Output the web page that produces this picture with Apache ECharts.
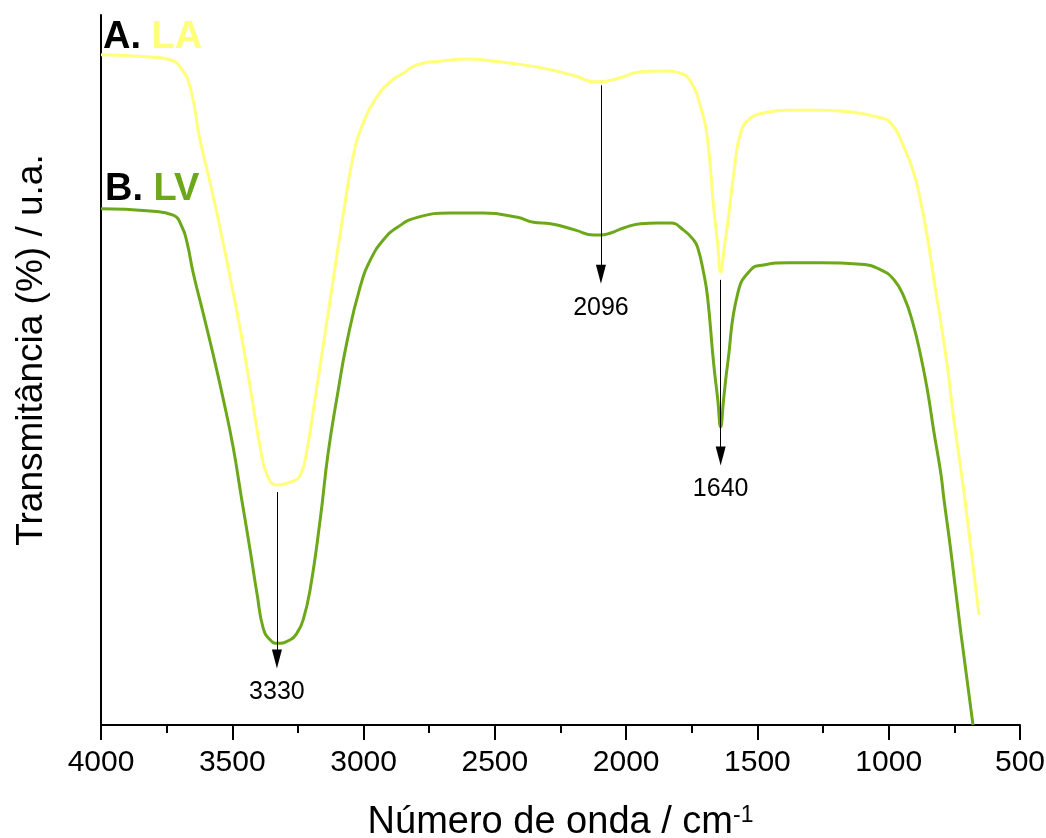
<!DOCTYPE html>
<html>
<head>
<meta charset="utf-8">
<script src="https://cdn.jsdelivr.net/npm/echarts@6/dist/echarts.min.js"></script>
<style>
    html, body { margin: 0; padding: 0; background: #fff; }
    #chart { width: 1046px; height: 838px; }
</style>
</head>
<body>
<div id="chart"></div>
<script>
// espectro A. LA (amarelo)
const laWave = [4000, 3813, 3737, 3699, 3661, 3623, 3584, 3546, 3508, 3470, 3432, 3394, 3367, 3329, 3279, 3241, 3215, 3192, 3154, 3115, 3077, 3039, 3001, 2948, 2898, 2849, 2795, 2708, 2605, 2505, 2414, 2288, 2193, 2124, 2098, 2059, 2010, 1945, 1857, 1793, 1754, 1716, 1690, 1667, 1651, 1640, 1625, 1613, 1590, 1564, 1526, 1476, 1385, 1259, 1133, 1041, 992, 942, 904, 877, 851, 828, 801, 775, 752, 725, 706, 656]
const laT = [94.4, 94.1, 93.7, 92.7, 89.9, 82.4, 76.3, 69.9, 63.0, 55.8, 47.6, 39.2, 35.2, 33.8, 34.2, 35.2, 38.9, 44.2, 53.4, 62.9, 72.0, 80.2, 84.8, 88.5, 90.6, 91.8, 93.0, 93.5, 93.8, 93.5, 93.1, 92.3, 91.4, 90.6, 90.6, 90.8, 91.3, 92.0, 92.1, 91.8, 90.6, 87.0, 82.4, 73.0, 67.6, 63.8, 67.6, 70.7, 77.7, 83.4, 85.5, 86.2, 86.6, 86.6, 86.3, 85.6, 84.8, 81.4, 77.7, 73.5, 68.3, 62.7, 56.6, 50.0, 43.0, 35.9, 30.6, 15.5]

// espectro B. LV (verde)
const lvWave = [4000, 3813, 3725, 3691, 3672, 3649, 3611, 3573, 3535, 3497, 3466, 3432, 3405, 3382, 3356, 3329, 3279, 3253, 3230, 3203, 3165, 3135, 3100, 3062, 3013, 2974, 2925, 2871, 2795, 2669, 2544, 2414, 2353, 2288, 2193, 2124, 2098, 2059, 2010, 1945, 1880, 1831, 1781, 1743, 1728, 1705, 1690, 1667, 1651, 1640, 1629, 1613, 1575, 1526, 1476, 1385, 1259, 1106, 1030, 980, 942, 908, 877, 851, 828, 801, 790, 763, 725, 679]
const lvT = [72.7, 72.4, 71.8, 70.1, 67.9, 63.7, 58.0, 52.2, 46.0, 39.2, 32.2, 24.6, 18.3, 13.6, 12.0, 11.5, 12.0, 13.0, 14.8, 19.2, 29.0, 38.3, 46.4, 54.2, 61.7, 65.5, 68.3, 70.1, 71.5, 72.1, 72.1, 71.5, 70.8, 70.6, 69.7, 69.0, 69.0, 69.3, 70.0, 70.6, 70.7, 70.7, 69.7, 68.3, 67.3, 63.7, 60.3, 51.0, 45.8, 42.0, 45.8, 51.0, 60.8, 64.1, 64.8, 65.1, 65.1, 64.9, 64.1, 62.7, 60.3, 56.6, 51.8, 46.8, 41.3, 35.3, 31.9, 24.4, 12.9, 0]

// setas das bandas
const peakWave = [3330, 2096, 1640]
const arrowFrom = [32.8, 90.1, 62.7]
const arrowTo = [9.3, 63.5, 37.9]

const xTicks = [4000, 3500, 3000, 2500, 2000, 1500, 1000, 500]

const FONT = '"Liberation Sans", Arial, sans-serif'
const YELLOW = '#ffff7a'
const GREEN = '#6ca81a'

function toPairs(xs, ys) {
    const out = []
    for (let i = 0; i < xs.length; i++) {
        out.push([xs[i], ys[i]])
    }
    return out
}

function getArrows() {
    const lines = []
    for (let i = 0; i < peakWave.length; i++) {
        lines.push([
            { name: String(peakWave[i]), coord: [peakWave[i], arrowFrom[i]], symbol: 'none' },
            { coord: [peakWave[i], arrowTo[i]], symbol: 'triangle', symbolSize: [10, 19] }
        ])
    }
    return lines
}

function getOptions() {
    return {
        animation: false,
        backgroundColor: '#fff',
        grid: {
            left: 101,
            right: 26,
            top: 15,
            bottom: 113,
            containLabel: false,
            outerBoundsMode: 'none'
        },
        xAxis: {
            type: 'value',
            inverse: true,
            min: xTicks[xTicks.length - 1],
            max: xTicks[0],
            interval: 500,
            name: '{a|Número de onda / cm}{s|-1}',
            nameLocation: 'middle',
            nameGap: 79,
            nameTextStyle: {
                rich: {
                    a: { fontSize: 38, fontFamily: FONT, color: '#000' },
                    s: { fontSize: 23, fontFamily: FONT, color: '#000', verticalAlign: 'top' }
                }
            },
            axisLine: { lineStyle: { color: '#000', width: 2 } },
            axisTick: { length: 15, lineStyle: { color: '#000', width: 2 } },
            minorTick: { show: true, splitNumber: 2, length: 8, lineStyle: { color: '#000', width: 2 } },
            axisLabel: {
                fontSize: 30,
                fontFamily: FONT,
                color: '#000',
                margin: 23,
                formatter: function (v) { return String(v) }
            },
            splitLine: { show: false }
        },
        yAxis: {
            type: 'value',
            min: 0,
            max: 100,
            axisLine: { show: true, lineStyle: { color: '#000', width: 2 } },
            axisTick: { show: false },
            axisLabel: { show: false },
            splitLine: { show: false }
        },
        graphic: [
            {
                type: 'text',
                left: 103,
                top: 19,
                style: {
                    text: '{k|A. }{a|LA}',
                    rich: {
                        k: { fontSize: 38, fontWeight: 'bold', fontFamily: FONT, fill: '#000' },
                        a: { fontSize: 38, fontWeight: 'bold', fontFamily: FONT, fill: YELLOW }
                    }
                }
            },
            {
                type: 'text',
                left: 105,
                top: 171,
                style: {
                    text: '{k|B. }{a|LV}',
                    rich: {
                        k: { fontSize: 38, fontWeight: 'bold', fontFamily: FONT, fill: '#000' },
                        a: { fontSize: 38, fontWeight: 'bold', fontFamily: FONT, fill: GREEN }
                    }
                }
            },
            {
                type: 'text',
                x: 32,
                y: 350,
                rotation: Math.PI / 2,
                style: {
                    text: 'Transmitância (%) / u.a.',
                    fontSize: 37,
                    fontFamily: FONT,
                    fill: '#000',
                    align: 'center',
                    verticalAlign: 'middle'
                }
            }
        ],
        series: [
            {
                name: 'LA',
                type: 'line',
                data: toPairs(laWave, laT),
                showSymbol: false,
                smooth: 0.5,
                lineStyle: { color: YELLOW, width: 3 },
                itemStyle: { color: YELLOW },
                z: 2
            },
            {
                name: 'LV',
                type: 'line',
                data: toPairs(lvWave, lvT),
                showSymbol: false,
                smooth: 0.5,
                lineStyle: { color: GREEN, width: 3 },
                itemStyle: { color: GREEN },
                z: 3,
                markLine: {
                    silent: true,
                    animation: false,
                    symbol: ['none', 'triangle'],
                    lineStyle: { color: '#000', width: 1, type: 'solid' },
                    itemStyle: { color: '#000' },
                    label: {
                        show: true,
                        position: 'end',
                        distance: 21,
                        formatter: '{b}',
                        fontSize: 25,
                        fontFamily: FONT,
                        color: '#000'
                    },
                    emphasis: { disabled: true },
                    data: getArrows()
                }
            }
        ]
    }
}

function draw() {
    const chart = echarts.init(document.getElementById('chart'))
    chart.setOption(getOptions())
}

draw()
</script>
</body>
</html>
